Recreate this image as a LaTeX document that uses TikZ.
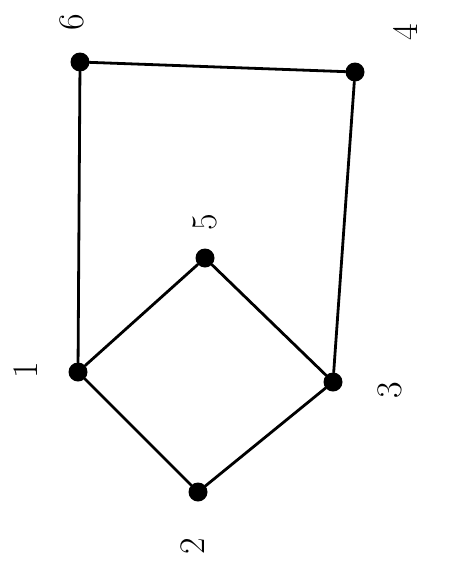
\documentclass[tikz,border=0pt]{standalone}
\begin{document}
\begin{tikzpicture}[x=1pt,y=-1pt,
  vtx/.style={circle,fill=black,inner sep=0pt,minimum size=19pt},
  lbl/.style={rotate=90,font=\fontsize{36}{36}\selectfont},
  edge/.style={line width=2.8pt,line cap=round}]
\useasboundingbox (0,0) rectangle (448,571);
\node[vtx] (v6) at (80,62) {};
\node[vtx] (v4) at (355,72) {};
\node[vtx] (v5) at (205,258) {};
\node[vtx] (v1) at (78,372) {};
\node[vtx] (v3) at (333,382) {};
\node[vtx] (v2) at (198,492) {};
\draw[edge] (v6) -- (v4);
\draw[edge] (v6) -- (v1);
\draw[edge] (v4) -- (v3);
\draw[edge] (v1) -- (v5);
\draw[edge] (v5) -- (v3);
\draw[edge] (v1) -- (v2);
\draw[edge] (v2) -- (v3);
\node[lbl] (l6) at (72,22) {6};
\node[lbl] (l4) at (405,32) {4};
\node[lbl] (l5) at (205,222) {5};
\node[lbl] (l1) at (26,370) {1};
\node[lbl] (l3) at (390,390) {3};
\node[lbl] (l2) at (193,546) {2};
\end{tikzpicture}
\end{document}
